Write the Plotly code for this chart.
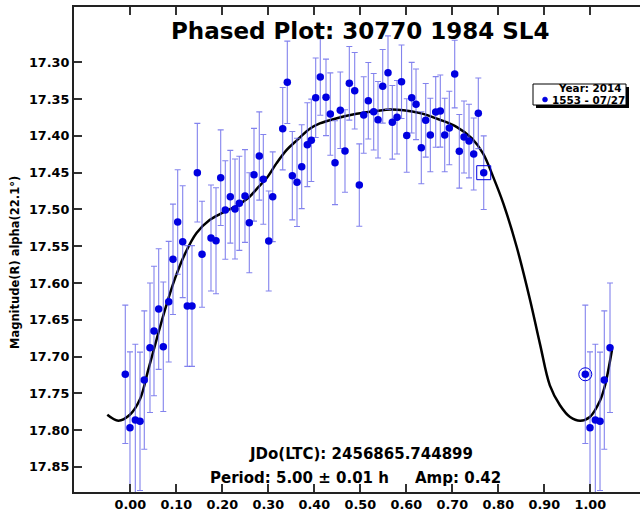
import plotly.graph_objects as go

# ---- data ----
phase = [-0.0109, -0.0007, 0.0109, 0.0211, 0.0304, 0.0428, 0.0515, 0.0617, 0.0717, 0.0835,
         0.0928, 0.1030, 0.1139, 0.1239, 0.1341, 0.1457, 0.1559, 0.1754, 0.1863, 0.1965,
         0.2065, 0.2174, 0.2276, 0.2370, 0.2493, 0.2587, 0.2689, 0.2804, 0.2891, 0.3009,
         0.3096, 0.3313, 0.3413, 0.3522, 0.3624, 0.3726, 0.3848, 0.3935, 0.4030, 0.4130,
         0.4254, 0.4348, 0.4450, 0.4565, 0.4667, 0.4761, 0.4878, 0.4978, 0.5074, 0.5174,
         0.5291, 0.5385, 0.5487, 0.5602, 0.5696, 0.5798, 0.5896, 0.6009, 0.6117, 0.6211,
         0.6326, 0.6422, 0.6522, 0.6639, 0.6739, 0.6835, 0.6935, 0.7052, 0.7152, 0.7254,
         0.7363, 0.7465, 0.7565, 0.7683]
mag = [17.7240, 17.7966, 17.7861, 17.7879, 17.7318, 17.6879, 17.6652, 17.6353, 17.6865, 17.6254,
       17.5677, 17.5170, 17.5438, 17.6312, 17.6312, 17.4500, 17.5609, 17.5388, 17.5425, 17.4568,
       17.5007, 17.4827, 17.4994, 17.4916, 17.4817, 17.5180, 17.4528, 17.4273, 17.4590, 17.5429,
       17.4827, 17.3902, 17.3272, 17.4541, 17.4631, 17.4419, 17.4120, 17.4060, 17.3481, 17.3200,
       17.3476, 17.3703, 17.4364, 17.3652, 17.4205, 17.3285, 17.3386, 17.4668, 17.3716, 17.3522,
       17.3671, 17.3780, 17.3326, 17.3141, 17.3815, 17.3747, 17.3264, 17.3995, 17.3481, 17.3571,
       17.4161, 17.3788, 17.3988, 17.3675, 17.3662, 17.3988, 17.3893, 17.3159, 17.4210, 17.4015,
       17.4070, 17.4246, 17.3693, 17.4500]
err = [0.094, 0.103, 0.103, 0.094, 0.094, 0.088, 0.088, 0.082, 0.088, 0.082,
       0.075, 0.071, 0.076, 0.082, 0.082, 0.067, 0.072, 0.072, 0.072, 0.065,
       0.067, 0.063, 0.068, 0.064, 0.063, 0.068, 0.063, 0.060, 0.061, 0.068,
       0.061, 0.056, 0.056, 0.060, 0.060, 0.057, 0.057, 0.056, 0.054, 0.052,
       0.052, 0.056, 0.057, 0.052, 0.056, 0.050, 0.052, 0.056, 0.052, 0.052,
       0.052, 0.052, 0.050, 0.050, 0.050, 0.050, 0.050, 0.050, 0.048, 0.048,
       0.049, 0.050, 0.050, 0.048, 0.049, 0.050, 0.050, 0.046, 0.050, 0.049,
       0.050, 0.049, 0.048, 0.050]

fit_phase = [-0.050, -0.026, -0.001, 0.021, 0.039, 0.057, 0.075, 0.097, 0.119, 0.144,
             0.173, 0.202, 0.231, 0.257, 0.275, 0.297, 0.318, 0.340, 0.362, 0.391,
             0.412, 0.449, 0.492, 0.536, 0.565, 0.594, 0.630, 0.673, 0.710, 0.742,
             0.767, 0.789, 0.811, 0.840, 0.869, 0.891, 0.912, 0.934, 0.956, 0.978,
             0.999, 1.021, 1.032, 1.047]
fit_mag = [17.779, 17.787, 17.779, 17.758, 17.718, 17.677, 17.637, 17.594, 17.560, 17.532,
           17.514, 17.504, 17.495, 17.484, 17.472, 17.457, 17.437, 17.419, 17.406, 17.390,
           17.383, 17.376, 17.370, 17.366, 17.364, 17.365, 17.369, 17.378, 17.388, 17.403,
           17.424, 17.456, 17.492, 17.551, 17.623, 17.684, 17.739, 17.766, 17.782, 17.787,
           17.782, 17.760, 17.739, 17.691]

x_ticks = [0.0, 0.1, 0.2, 0.3, 0.4, 0.5, 0.6, 0.7, 0.8, 0.9, 1.0]
y_ticks = [17.30, 17.35, 17.40, 17.45, 17.50, 17.55, 17.60, 17.65, 17.70, 17.75, 17.80, 17.85]

title_text = "Phased Plot: 30770 1984 SL4"
ytitle_text = "Magnitude(R) alpha(22.1°)"
jd_text = "JDo(LTC): 2456865.744899"
period_text = "Period: 5.00 ± 0.01 h&nbsp;&nbsp;&nbsp;&nbsp;&nbsp;Amp: 0.42"
legend_title = "Year: 2014"
legend_item = "1553 - 07/27"

# points near phase 0 repeated one cycle later
rep_idx = [i for i, p in enumerate(phase) if p < 0.05]
ph_all = phase + [phase[i] + 1 for i in rep_idx]
mag_all = mag + [mag[i] for i in rep_idx]
err_all = err + [err[i] for i in rep_idx]

W, H = 640, 515
L, R, T, B = 74, 0, 7, 23
PW, PH = W - L - R, H - T - B


def px(x):
    return (x - L) / PW


def py(y):
    return (H - B - y) / PH


FONT = "DejaVu Sans, Verdana, sans-serif"
BLUE = "rgb(0,0,225)"

fig = go.Figure()
fig.add_trace(go.Scatter(
    x=fit_phase, y=fit_mag, mode="lines", line=dict(color="black", width=2.5, shape="spline"),
    showlegend=False, hoverinfo="skip"))
fig.add_trace(go.Scatter(
    x=ph_all, y=mag_all, mode="markers",
    marker=dict(color=BLUE, size=7.5),
    error_y=dict(type="data", array=err_all, color="rgba(100,100,232,0.8)", thickness=1.1, width=3),
    showlegend=False))
# first point (ring) and last point (square) highlights
first = rep_idx[0]
fig.add_trace(go.Scatter(
    x=[phase[first] + 1], y=[mag[first]], mode="markers",
    marker=dict(symbol="circle-open", size=13, color=BLUE, line=dict(width=1)), showlegend=False))
fig.add_trace(go.Scatter(
    x=[phase[-1]], y=[mag[-1]], mode="markers",
    marker=dict(symbol="square-open", size=14, color=BLUE, line=dict(width=1)), showlegend=False))

axis_font = dict(family=FONT, size=12.8, color="black", weight="bold")
fig.update_xaxes(range=[-0.1224, 1.108], tickvals=x_ticks, tickformat=".2f",
                 ticks="inside", ticklen=8, tickwidth=1.5, tickcolor="#333",
                 showline=True, linewidth=2, linecolor="#222", mirror="ticks",
                 showgrid=False, zeroline=False, tickfont=axis_font, automargin=False)
fig.update_yaxes(range=[17.884, 17.2248], tickvals=y_ticks, tickformat=".2f",
                 ticks="inside", ticklen=8, tickwidth=1.5, tickcolor="#333",
                 showline=True, linewidth=2, linecolor="#222", mirror=False,
                 showgrid=False, zeroline=False, tickfont=axis_font, automargin=False)


def note(text, x, y, size, xanchor="center", angle=0):
    return dict(text=text, x=px(x), y=py(y), xref="paper", yref="paper",
                xanchor=xanchor, yanchor="middle", textangle=angle, showarrow=False,
                font=dict(family=FONT, size=size, color="black", weight="bold"))


ann = [
    note(title_text, 360, 31, 23),
    note(jd_text, 360.5, 453.5, 15),
    note(period_text, 355, 478, 15),
    note(ytitle_text, 15, 263, 11.5, angle=-90),
    note(legend_title, 623, 88.5, 10.4, xanchor="right"),
    note(legend_item, 550, 99.5, 10.4, xanchor="left"),
]

shapes = [
    dict(type="rect", xref="paper", yref="paper", x0=px(536), x1=px(629), y0=py(108), y1=py(87),
         fillcolor="black", line=dict(width=0), layer="above"),
    dict(type="rect", xref="paper", yref="paper", x0=px(533), x1=px(626), y0=py(105), y1=py(84),
         fillcolor="white", line=dict(color="black", width=1), layer="above"),
    dict(type="circle", xref="paper", yref="paper", x0=px(542.5), x1=px(547.5), y0=py(102), y1=py(97),
         fillcolor=BLUE, line=dict(color=BLUE, width=0.5), layer="above"),
]

fig.update_layout(width=W, height=H, margin=dict(l=L, r=R, t=T, b=B, pad=0),
                  plot_bgcolor="white", paper_bgcolor="white",
                  annotations=ann, shapes=shapes, showlegend=False)
fig.write_html("out.html", config={"displayModeBar": False},
               post_script="document.body.style.margin='0px';")
